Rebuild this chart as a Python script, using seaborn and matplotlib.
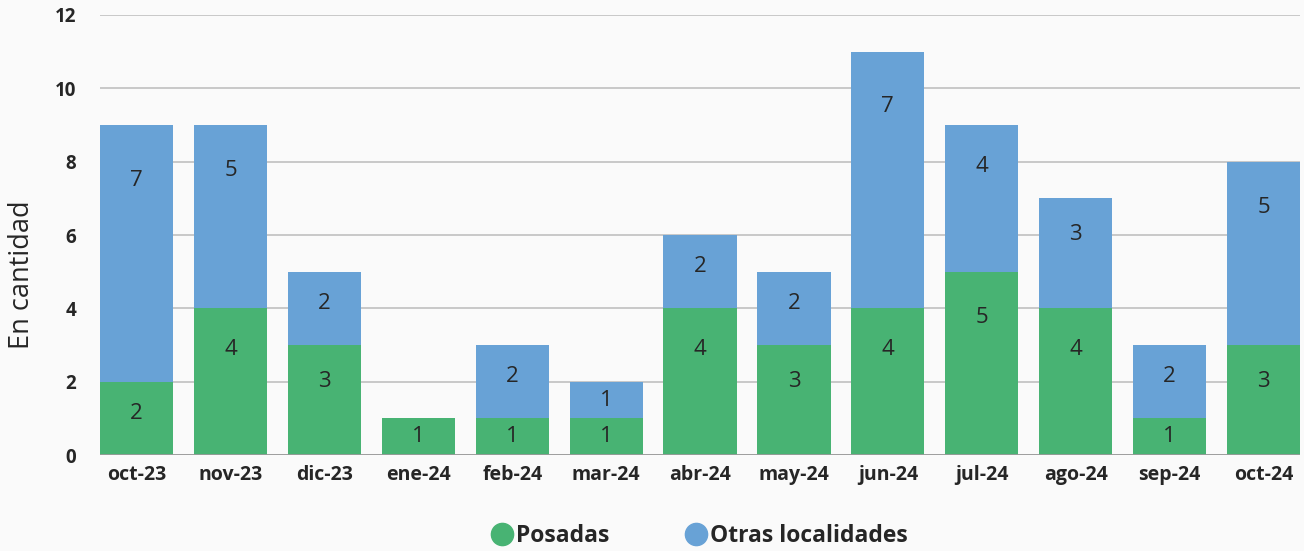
import pandas as pd
import seaborn as sns
import matplotlib.pyplot as plt
from matplotlib import font_manager
from matplotlib.lines import Line2D

meses = ["oct-23", "nov-23", "dic-23", "ene-24", "feb-24", "mar-24", "abr-24",
         "may-24", "jun-24", "jul-24", "ago-24", "sep-24", "oct-24"]
posadas = [2, 4, 3, 1, 1, 1, 4, 3, 4, 5, 4, 1, 3]
otras = [7, 5, 2, 0, 2, 1, 2, 2, 7, 4, 3, 2, 5]
yticks = [0, 2, 4, 6, 8, 10, 12]

verde = "#48b373"
azul = "#68a2d6"

df = pd.DataFrame({"mes": meses, "posadas": posadas, "otras": otras})
df["total"] = df["posadas"] + df["otras"]


def tiene_negrita(nombre):
    for f in font_manager.fontManager.ttflist:
        w = f.weight
        if f.name == nombre and (w in ("bold", "heavy") or (isinstance(w, int) and w >= 600)):
            return True
    return False


# primera fuente de la lista que tenga variante negrita
fuente = "DejaVu Sans"
for nombre in ["Noto Sans", "Open Sans", "Lato", "Roboto"]:
    if tiene_negrita(nombre):
        fuente = nombre
        break

sns.set_style("white")
plt.rcParams["font.family"] = [fuente, "DejaVu Sans"]

fig = plt.figure(figsize=(13.04, 5.51), dpi=100, facecolor="#fafafa")
ax = fig.add_axes([0.0767, 0.174, 0.9203, 0.799])
ax.set_facecolor("#fafafa")

# barras apiladas: total (azul) y encima posadas (verde)
sns.barplot(data=df, x="mes", y="total", color=azul, width=0.78, ax=ax,
            saturation=1, linewidth=0, zorder=2)
sns.barplot(data=df, x="mes", y="posadas", color=verde, width=0.78, ax=ax,
            saturation=1, linewidth=0, zorder=3)


def pos_etiqueta(base, largo):
    # etiqueta cerca de la parte superior del segmento
    return base + largo - min(largo / 2, 0.6 + 0.13 * largo)


for i, row in df.iterrows():
    if row["posadas"] > 0:
        ax.text(i, pos_etiqueta(0, row["posadas"]), str(row["posadas"]),
                ha="center", va="center", fontsize=16, zorder=5)
    if row["otras"] > 0:
        ax.text(i, pos_etiqueta(row["posadas"], row["otras"]), str(row["otras"]),
                ha="center", va="center", fontsize=16, zorder=5)

ax.set_xlim(-0.39, len(meses) - 1 + 0.39)
ax.set_ylim(0, 12)
ax.set_xticks(range(len(meses)))
ax.set_xticklabels(meses, fontweight="bold", fontsize=14)
ax.set_yticks(yticks)
ax.set_yticklabels([str(v) for v in yticks], fontweight="bold", fontsize=13.5)
ax.grid(axis="y", color="#c8c8c8", linewidth=1.4, zorder=0)
ax.set_axisbelow(True)
ax.axhline(0, color="#9a9a9a", linewidth=2, zorder=4)
sns.despine(ax=ax, left=True, bottom=True)

ax.tick_params(axis="both", length=0)
ax.tick_params(axis="y", pad=17)
ax.tick_params(axis="x", pad=7)

ax.set_xlabel("")
ax.set_ylabel("En cantidad", fontsize=19.5)
ax.yaxis.set_label_coords(-0.053, 0.41)

handles = [
    Line2D([], [], marker="o", linestyle="", markersize=16, color=verde),
    Line2D([], [], marker="o", linestyle="", markersize=16, color=azul),
]
fig.legend(handles, ["Posadas", "Otras localidades"], loc="center",
           bbox_to_anchor=(0.536, 0.027), ncol=2, frameon=False,
           prop={"weight": "bold", "size": 16.5}, handletextpad=0.1,
           columnspacing=3.3, handlelength=1.0)

plt.savefig("out.png", dpi=100, facecolor=fig.get_facecolor())
plt.close()
